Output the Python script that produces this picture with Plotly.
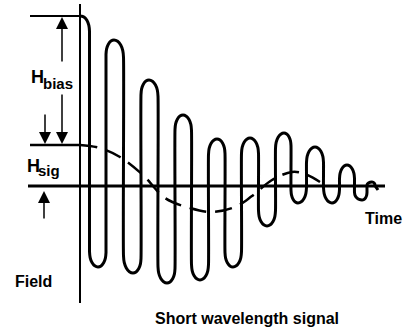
import math
import plotly.graph_objects as go

# Decaying bias oscillation: turning points (time offset from field axis, field relative to time axis)
wave_t = [1, 18, 34, 53, 69, 87, 103, 120, 137, 153, 170, 187, 204, 218, 235, 252, 267, 282, 292, 298]
wave_f = [170, -81, 146, -87, 106, -97, 71, -94, 47, -81, 48, -40, 53, -17, 39, -17, 21, -14, 4, -4]

# Short wavelength signal (dashed)
sig_t = [0, 20, 40, 63, 85, 110, 132, 155, 172, 192, 212, 225, 240]
sig_f = [41, 38, 29, 11, -12, -22, -26, -21, -10, 6, 14, 12, 4]

# Reference levels
bias_top = 170
sig_level = 41

FONT = "Liberation Sans, Arial, sans-serif"


def hairpin_path(ts, fs, arc_steps=8, aspect=1.8):
    """Stroke the turning points as the hand-drawn hairpin loops of the figure:
    near-vertical flanks midway between turning points, rounded ends."""
    xs, ys = [], []
    n = len(ts)
    for i in range(n):
        t, f = ts[i], fs[i]
        if i == n - 1:
            xs.append(t); ys.append(f)
            break
        sign = 1 if (i + 1 < n and f > fs[i + 1]) or (i > 0 and f > fs[i - 1]) else -1
        left = (ts[i - 1] + t) / 2 if i > 0 else t
        right = (ts[i + 1] + t) / 2
        wl, wr = t - left, right - t
        amp = min(abs(f - fs[i + 1]), abs(f - fs[i - 1]) if i > 0 else 1e9)
        for k in range(arc_steps + 1):
            th = -math.pi / 2 + math.pi * k / arc_steps
            if th < 0 and i == 0:
                continue
            w = wl if th < 0 else wr
            h = min(aspect * w, 0.42 * amp)
            xs.append(t + w * math.sin(th))
            ys.append(f - sign * h * (1 - math.cos(th)))
    return xs, ys


px, py = hairpin_path(wave_t, wave_f)

fig = go.Figure()
fig.add_trace(go.Scatter(x=px, y=py, mode="lines",
                         line=dict(color="black", width=3, shape="spline", smoothing=0.6),
                         hoverinfo="skip"))
fig.add_trace(go.Scatter(x=sig_t, y=sig_f, mode="lines",
                         line=dict(color="black", width=2.5, shape="spline", dash="17px,9px"),
                         hoverinfo="skip"))

# axes lines
fig.add_shape(type="line", x0=0, x1=0, y0=182, y1=-117, line=dict(color="black", width=2))
fig.add_shape(type="line", x0=-52, x1=305, y0=0, y1=0, line=dict(color="black", width=3))
# reference lines
fig.add_shape(type="line", x0=-50, x1=2, y0=bias_top, y1=bias_top, line=dict(color="black", width=2))
fig.add_shape(type="line", x0=-50, x1=0, y0=sig_level, y1=sig_level, line=dict(color="black", width=2.5))


def arrow(x, y_tail, y_tip):
    fig.add_annotation(x=x, y=y_tip, ax=x, ay=y_tail, xref="x", yref="y", axref="x", ayref="y",
                       showarrow=True, arrowhead=2, arrowsize=1.6, arrowwidth=1.5,
                       arrowcolor="black", text="")


arrow(-18, 123, 169)
arrow(-18, 93, 42)
arrow(-35, 73, 42)
arrow(-36, -34, -5)


def label(x, y, text, size):
    fig.add_annotation(x=x, y=y, xref="x", yref="y", text="<b>" + text + "</b>",
                       showarrow=False, font=dict(family=FONT, size=size, color="black"))


label(-43, 109, "H", 18)
label(-22, 103, "bias", 15)
label(-47, 20, "H", 18)
label(-31, 16, "sig", 15)
label(-46.5, -95, "Field", 16)
label(303, -32, "Time", 16)
label(167, -132, "Short wavelength signal", 16)

fig.update_layout(width=405, height=329, margin=dict(l=0, r=0, t=0, b=0),
                  paper_bgcolor="white", plot_bgcolor="white", showlegend=False,
                  hovermode=False,
                  xaxis=dict(range=[-80, 325], visible=False),
                  yaxis=dict(range=[-143, 186], visible=False))
# remove the default page margin so the 405x329 figure fills the window exactly
fig.write_html("out.html", config={"displayModeBar": False},
               post_script="document.body.style.margin='0px';document.body.style.overflow='hidden';")
